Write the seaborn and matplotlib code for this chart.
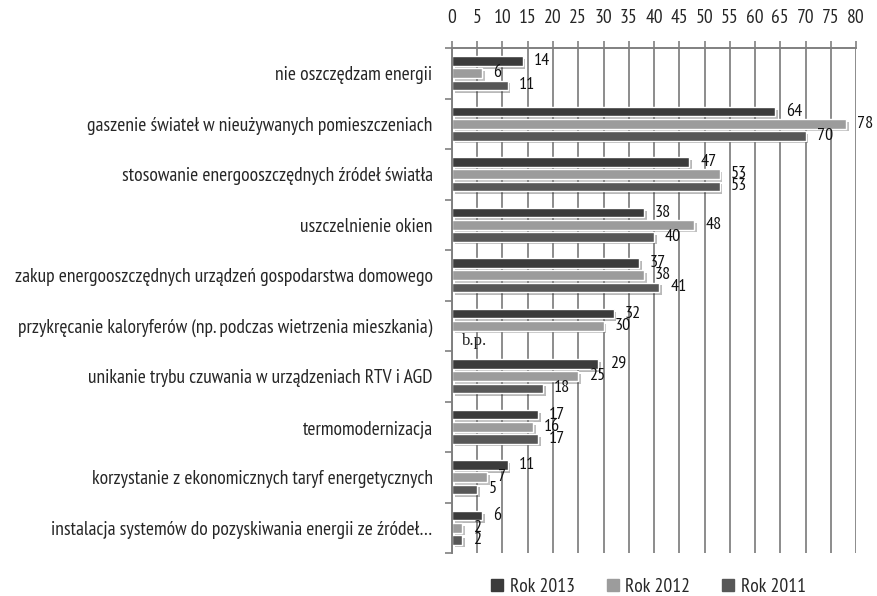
import numpy as np
import pandas as pd
import matplotlib
matplotlib.use('Agg')
import matplotlib.pyplot as plt
import seaborn as sns
from matplotlib import patheffects as pe
from matplotlib.lines import Line2D

categories = [
    'nie oszczędzam energii',
    'gaszenie świateł w nieużywanych pomieszczeniach',
    'stosowanie energooszczędnych źródeł światła',
    'uszczelnienie okien',
    'zakup energooszczędnych urządzeń gospodarstwa domowego',
    'przykręcanie kaloryferów (np. podczas wietrzenia mieszkania)',
    'unikanie trybu czuwania w urządzeniach RTV i AGD',
    'termomodernizacja',
    'korzystanie z ekonomicznych taryf energetycznych',
    'instalacja systemów do pozyskiwania energii ze źródeł…',
]
rok_2013 = [14, 64, 47, 38, 37, 32, 29, 17, 11, 6]
rok_2012 = [6, 78, 53, 48, 38, 30, 25, 16, 7, 2]
rok_2011 = [11, 70, 53, 40, 41, np.nan, 18, 17, 5, 2]  # b.p. = brak pytania
series = ['Rok 2013', 'Rok 2012', 'Rok 2011']
colors = ['#3b3b3b', '#9c9c9c', '#575757']
x_ticks = list(range(0, 81, 5))

df = pd.DataFrame({
    'kategoria': categories * 3,
    'rok': np.repeat(series, len(categories)),
    'wartosc': rok_2013 + rok_2012 + rok_2011,
})

sns.set_style('white')
plt.rcParams['font.family'] = ['PT Sans Narrow', 'DejaVu Sans']

fig = plt.figure(figsize=(8.77, 5.96), dpi=100)
ax = fig.add_axes([452 / 877, 1 - 553 / 596, (856 - 452) / 877, (553 - 48) / 596])

sns.barplot(data=df, y='kategoria', x='wartosc', hue='rok', hue_order=series,
            order=categories, palette=dict(zip(series, colors)), orient='h',
            width=0.72, gap=0.2, saturation=1, legend=False, ax=ax)

# shadow under the bars
for p in ax.patches:
    p.set_path_effects([pe.SimplePatchShadow(offset=(2, -2), alpha=0.3), pe.Normal()])

for cont in ax.containers:
    ax.bar_label(cont, fmt='%.0f', padding=8, fontsize=13, color='#111111')

# no answer for 2011
ax.text(2, 5 + 0.3, 'b.p.', family=['Liberation Serif', 'DejaVu Serif'],
        fontsize=12, va='center', ha='left', color='#222222')

ax.set_xlim(0, 80)
ax.xaxis.tick_top()
ax.set_xticks(x_ticks)
ax.tick_params(axis='x', which='major', length=5, width=1.2, color='#808080',
               labelsize=14, pad=10, bottom=False, top=True)
ax.xaxis.grid(True, color='#8c8c8c', lw=1.4)
ax.set_axisbelow(True)

ax.set_yticks(range(len(categories)))
ax.set_yticklabels(categories)
ax.set_yticks(np.arange(-0.5, len(categories), 1), minor=True)
ax.tick_params(axis='y', which='major', length=0, labelsize=14, pad=14, left=False)
ax.tick_params(axis='y', which='minor', length=5, width=1.2, color='#808080', left=True)
ax.set_xlabel('')
ax.set_ylabel('')

for side in ['right', 'bottom']:
    ax.spines[side].set_visible(False)
for side in ['top', 'left']:
    ax.spines[side].set_color('#808080')
    ax.spines[side].set_linewidth(1.4)

handles = [Line2D([], [], marker='s', ls='', color=c, markersize=8) for c in colors]
fig.legend(handles, series, loc='center', bbox_to_anchor=(648 / 877, 1 - 587 / 596),
           ncol=3, frameon=False, fontsize=14, handlelength=0.7, handletextpad=0.3,
           columnspacing=1.6)

fig.savefig('out.png', dpi=100)
plt.close(fig)
